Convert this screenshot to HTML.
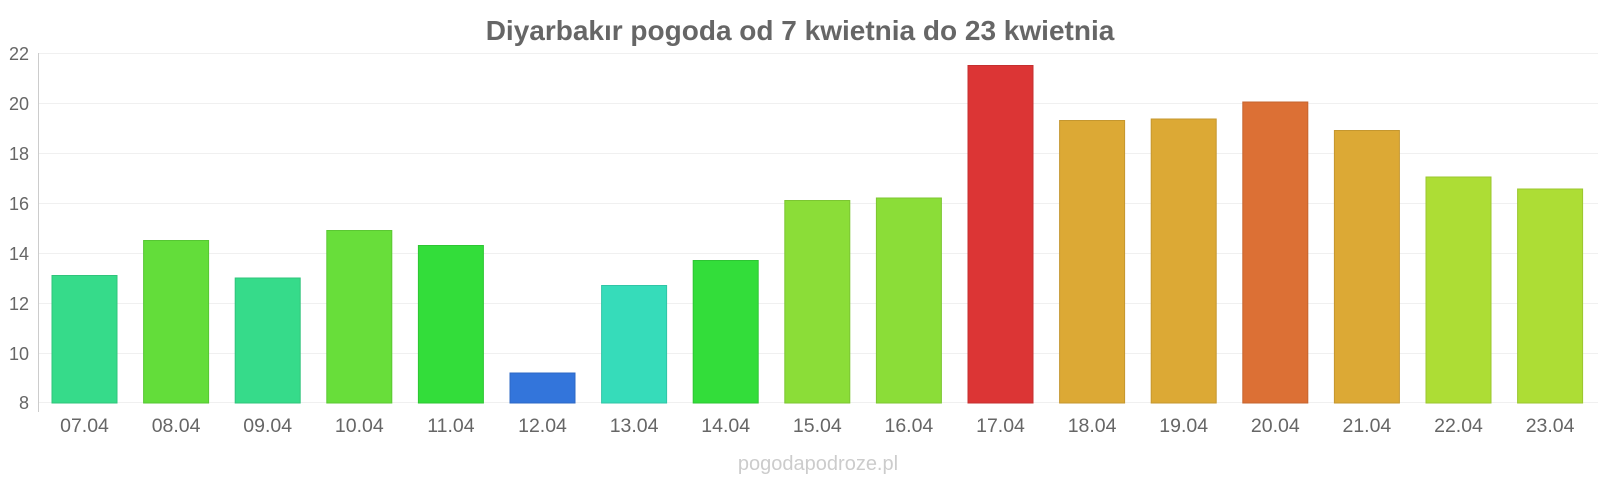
<!DOCTYPE html>
<html><head><meta charset="utf-8"><style>
body{margin:0;background:#fff;}
svg{display:block;font-family:"Liberation Sans",sans-serif;}
</style></head><body>
<svg width="1600" height="480" xmlns="http://www.w3.org/2000/svg">
<text x="800" y="40" text-anchor="middle" font-size="28" font-weight="bold" fill="#666">Diyarbakır pogoda od 7 kwietnia do 23 kwietnia</text>
<g stroke="#f0f0f0" stroke-width="1">
<line x1="38" x2="1598" y1="53.5" y2="53.5"/>
<line x1="38" x2="1598" y1="103.5" y2="103.5"/>
<line x1="38" x2="1598" y1="153.5" y2="153.5"/>
<line x1="38" x2="1598" y1="203.5" y2="203.5"/>
<line x1="38" x2="1598" y1="253.5" y2="253.5"/>
<line x1="38" x2="1598" y1="303.5" y2="303.5"/>
<line x1="38" x2="1598" y1="353.5" y2="353.5"/>
<line x1="38" x2="1598" y1="402.5" y2="402.5"/>
</g>
<line x1="38.5" x2="38.5" y1="53" y2="412" stroke="#ccc"/>
<g font-size="18" fill="#666" text-anchor="end">
<text x="29" y="60">22</text><text x="29" y="110">20</text><text x="29" y="160">18</text><text x="29" y="210">16</text><text x="29" y="260">14</text><text x="29" y="310">12</text><text x="29" y="360">10</text><text x="29" y="409">8</text>
</g>
<g stroke-width="1">
<rect x="52" y="275.5" width="65" height="127.5" fill="#36db8a" stroke="#2fc47b"/>
<rect x="143.6" y="240.5" width="65" height="162.5" fill="#63dd3a" stroke="#56c733"/>
<rect x="235.2" y="278" width="65" height="125" fill="#36db8a" stroke="#2fc47b"/>
<rect x="326.8" y="230.5" width="65" height="172.5" fill="#68de3a" stroke="#5bc833"/>
<rect x="418.4" y="245.5" width="65" height="157.5" fill="#33dd3a" stroke="#2dc633"/>
<rect x="510" y="373" width="65" height="30" fill="#3375db" stroke="#2d68c4"/>
<rect x="601.6" y="285.5" width="65" height="117.5" fill="#36dcba" stroke="#30c5a6"/>
<rect x="693.2" y="260.5" width="65" height="142.5" fill="#33dd3a" stroke="#2dc633"/>
<rect x="784.8" y="200.5" width="65" height="202.5" fill="#8bdd38" stroke="#7cc632"/>
<rect x="876.4" y="198" width="65" height="205" fill="#8bdd38" stroke="#7cc632"/>
<rect x="968" y="65.5" width="65" height="337.5" fill="#dc3535" stroke="#c52f2f"/>
<rect x="1059.6" y="120.5" width="65" height="282.5" fill="#dca935" stroke="#c5972f"/>
<rect x="1151.2" y="119" width="65" height="284" fill="#dca935" stroke="#c5972f"/>
<rect x="1242.8" y="102" width="65" height="301" fill="#dc7035" stroke="#c5642f"/>
<rect x="1334.4" y="130.5" width="65" height="272.5" fill="#dca935" stroke="#c5972f"/>
<rect x="1426" y="177" width="65" height="226" fill="#addd35" stroke="#9bc62f"/>
<rect x="1517.6" y="189" width="65" height="214" fill="#addd35" stroke="#9bc62f"/>
</g>
<g font-size="19.5" fill="#666" text-anchor="middle">
<text x="84.5" y="432">07.04</text><text x="176.1" y="432">08.04</text><text x="267.7" y="432">09.04</text><text x="359.3" y="432">10.04</text><text x="450.9" y="432">11.04</text><text x="542.5" y="432">12.04</text><text x="634.1" y="432">13.04</text><text x="725.7" y="432">14.04</text><text x="817.3" y="432">15.04</text><text x="908.9" y="432">16.04</text><text x="1000.5" y="432">17.04</text><text x="1092.1" y="432">18.04</text><text x="1183.7" y="432">19.04</text><text x="1275.3" y="432">20.04</text><text x="1366.9" y="432">21.04</text><text x="1458.5" y="432">22.04</text><text x="1550.1" y="432">23.04</text>
</g>
<text x="818" y="470" text-anchor="middle" font-size="20" fill="#ccc">pogodapodroze.pl</text>
</svg>
</body></html>
